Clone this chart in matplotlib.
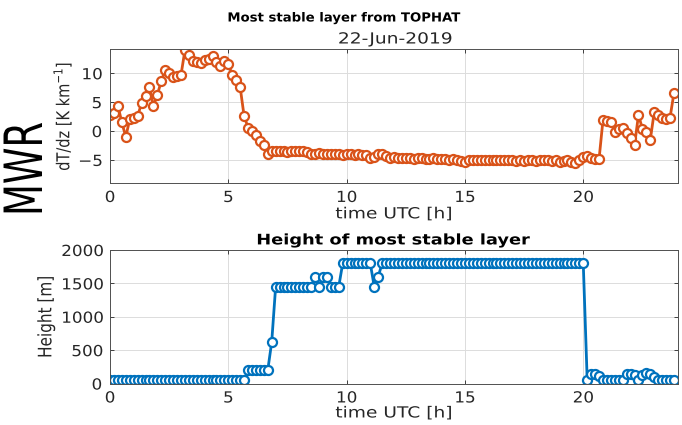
import numpy as np
import matplotlib
matplotlib.use('Agg')
import matplotlib.pyplot as plt
from matplotlib.patheffects import AbstractPathEffect
from matplotlib.transforms import Affine2D

# 10-minute samples over one day
t_hours = np.arange(144) / 6.0

# lapse rate of the most stable layer [K/km]
dTdz = [2.8, 3.2, 4.4, 1.5, -1.0, 2.0, 2.3, 2.6, 4.8, 6.0,
        7.6, 4.3, 6.3, 8.6, 10.6, 10.0, 9.3, 9.5, 9.7, 14.0,
        13.2, 12.2, 11.9, 11.8, 12.3, 12.5, 13.0, 12.0, 11.3, 12.1,
        11.6, 9.7, 8.8, 7.6, 2.6, 0.6, 0.0, -0.7, -1.8, -2.4,
        -3.9, -3.4, -3.5, -3.4, -3.5, -3.6, -3.5, -3.4, -3.5, -3.4,
        -3.6, -4.0, -3.9, -3.8, -3.9, -4.0, -3.9, -4.0, -4.0, -4.1,
        -4.0, -4.0, -4.1, -4.0, -4.1, -4.2, -4.6, -4.5, -3.9, -4.0,
        -4.4, -4.6, -4.5, -4.7, -4.6, -4.7, -4.6, -4.8, -4.7, -4.7,
        -4.8, -4.8, -4.7, -4.9, -4.8, -4.9, -5.0, -4.9, -5.0, -5.2,
        -5.3, -5.0, -5.1, -5.0, -5.1, -5.0, -5.1, -5.0, -5.0, -5.1,
        -5.0, -5.1, -5.0, -5.2, -5.1, -5.2, -5.1, -5.0, -5.2, -5.1,
        -5.0, -5.0, -5.2, -5.1, -5.4, -5.2, -5.0, -5.4, -5.6, -5.0,
        -4.5, -4.4, -4.7, -4.8, -4.9, 1.9, 1.8, 1.6, -0.2, 0.3,
        0.6, -0.4, -1.2, -2.5, 2.8, 0.4, -0.2, -1.5, 3.3, 2.8,
        2.2, 2.0, 2.3, 6.6]

# height of the most stable layer [m]
height = ([50] * 35 + [200] * 6 + [620] + [1450] * 10 +
          [1600, 1450, 1600, 1600, 1450, 1450, 1450] +
          [1800] * 8 + [1450, 1600] + [1800] * 52 +
          [50, 150, 150, 120, 60, 50, 50, 50, 50, 60,
           150, 150, 130, 60, 130, 160, 150, 100, 50, 50,
           50, 50, 50])

orange = '#D95319'
blue = '#0072BD'
txt = '#262626'

plt.rcParams['font.family'] = 'DejaVu Sans'


class Squeeze(AbstractPathEffect):
    """Scale glyph outlines about a fixed pixel point, or about their own
    centre when no point is given."""

    def __init__(self, sx, sy, cx=None, cy=None):
        super().__init__()
        self.sx, self.sy, self.cx, self.cy = sx, sy, cx, cy

    def draw_path(self, renderer, gc, tpath, affine, rgbFace=None):
        cx, cy = self.cx, self.cy
        if cx is None:
            ext = tpath.get_extents(affine)
            cx, cy = (ext.x0 + ext.x1) / 2, (ext.y0 + ext.y1) / 2
        squeeze = (Affine2D().translate(-cx, -cy)
                   .scale(self.sx, self.sy).translate(cx, cy))
        renderer.draw_path(gc, tpath, affine + squeeze, rgbFace)


wide = [Squeeze(1.22, 1.0)]
wide_ticks = [Squeeze(1.1, 1.0)]

fig = plt.figure(figsize=(6.82, 4.25), dpi=100)
ax1 = fig.add_axes([0.1613, 0.5694, 0.8327, 0.3153])
ax2 = fig.add_axes([0.1613, 0.0976, 0.8327, 0.3142])


def matlab_style(ax):
    ax.grid(True, color='#dcdcdc', linewidth=0.7)
    ax.set_axisbelow(True)
    ax.tick_params(direction='in', top=True, right=True, colors=txt,
                   labelsize=11, length=3, width=0.6)
    ax.tick_params(axis='x', pad=5)
    ax.tick_params(axis='y', pad=6)
    for lab in ax.get_xticklabels() + ax.get_yticklabels():
        lab.set_path_effects(wide_ticks)
    for s in ax.spines.values():
        s.set_color('#505050')
        s.set_linewidth(0.7)


for ax in (ax1, ax2):
    ax.set_xlim(0, 24)
    ax.set_xticks([0, 5, 10, 15, 20])
ax1.set_ylim(-9, 14.2)
ax1.set_yticks([-5, 0, 5, 10])
ax2.set_ylim(0, 2000)
ax2.set_yticks([0, 500, 1000, 1500, 2000])

ax1.plot(t_hours, dTdz, '-o', color=orange, lw=2, ms=6.5, mew=1.6,
         mfc='white')
matlab_style(ax1)
ax1.set_xlabel('time UTC [h]', color=txt, fontsize=11, labelpad=1,
               path_effects=wide)
ax1.set_ylabel('dT/dz [K km$^{-1}$]', color=txt, fontsize=10.5, labelpad=5,
               path_effects=wide)
fig.text(453 / 682, 1 - 18 / 425, 'Most stable layer from TOPHAT',
         ha='right', va='center', fontsize=9, fontweight='bold', color='black',
         path_effects=[Squeeze(1.06, 1.0)])
fig.text(395 / 682, 1 - 39 / 425, '22-Jun-2019',
         ha='center', va='center', fontsize=11, color=txt, path_effects=wide)

ax2.plot(t_hours, height, '-o', color=blue, lw=2, ms=6.5, mew=1.6,
         mfc='white')
matlab_style(ax2)
ax2.set_xlabel('time UTC [h]', color=txt, fontsize=11, labelpad=0,
               path_effects=wide)
ax2.set_ylabel('Height [m]', color=txt, fontsize=11, labelpad=7,
               path_effects=wide)
ax2.set_title('Height of most stable layer', fontsize=10.5, fontweight='bold',
              color='black', pad=4, path_effects=wide)

mwr_x, mwr_y = 27, 425 - 169
fig.text(mwr_x / 682, mwr_y / 425, 'MWR', rotation=90, ha='center',
         va='center', fontsize=38, color='black',
         path_effects=[Squeeze(1.0, 0.7, mwr_x, mwr_y)])

fig.savefig('out.png', dpi=100)
